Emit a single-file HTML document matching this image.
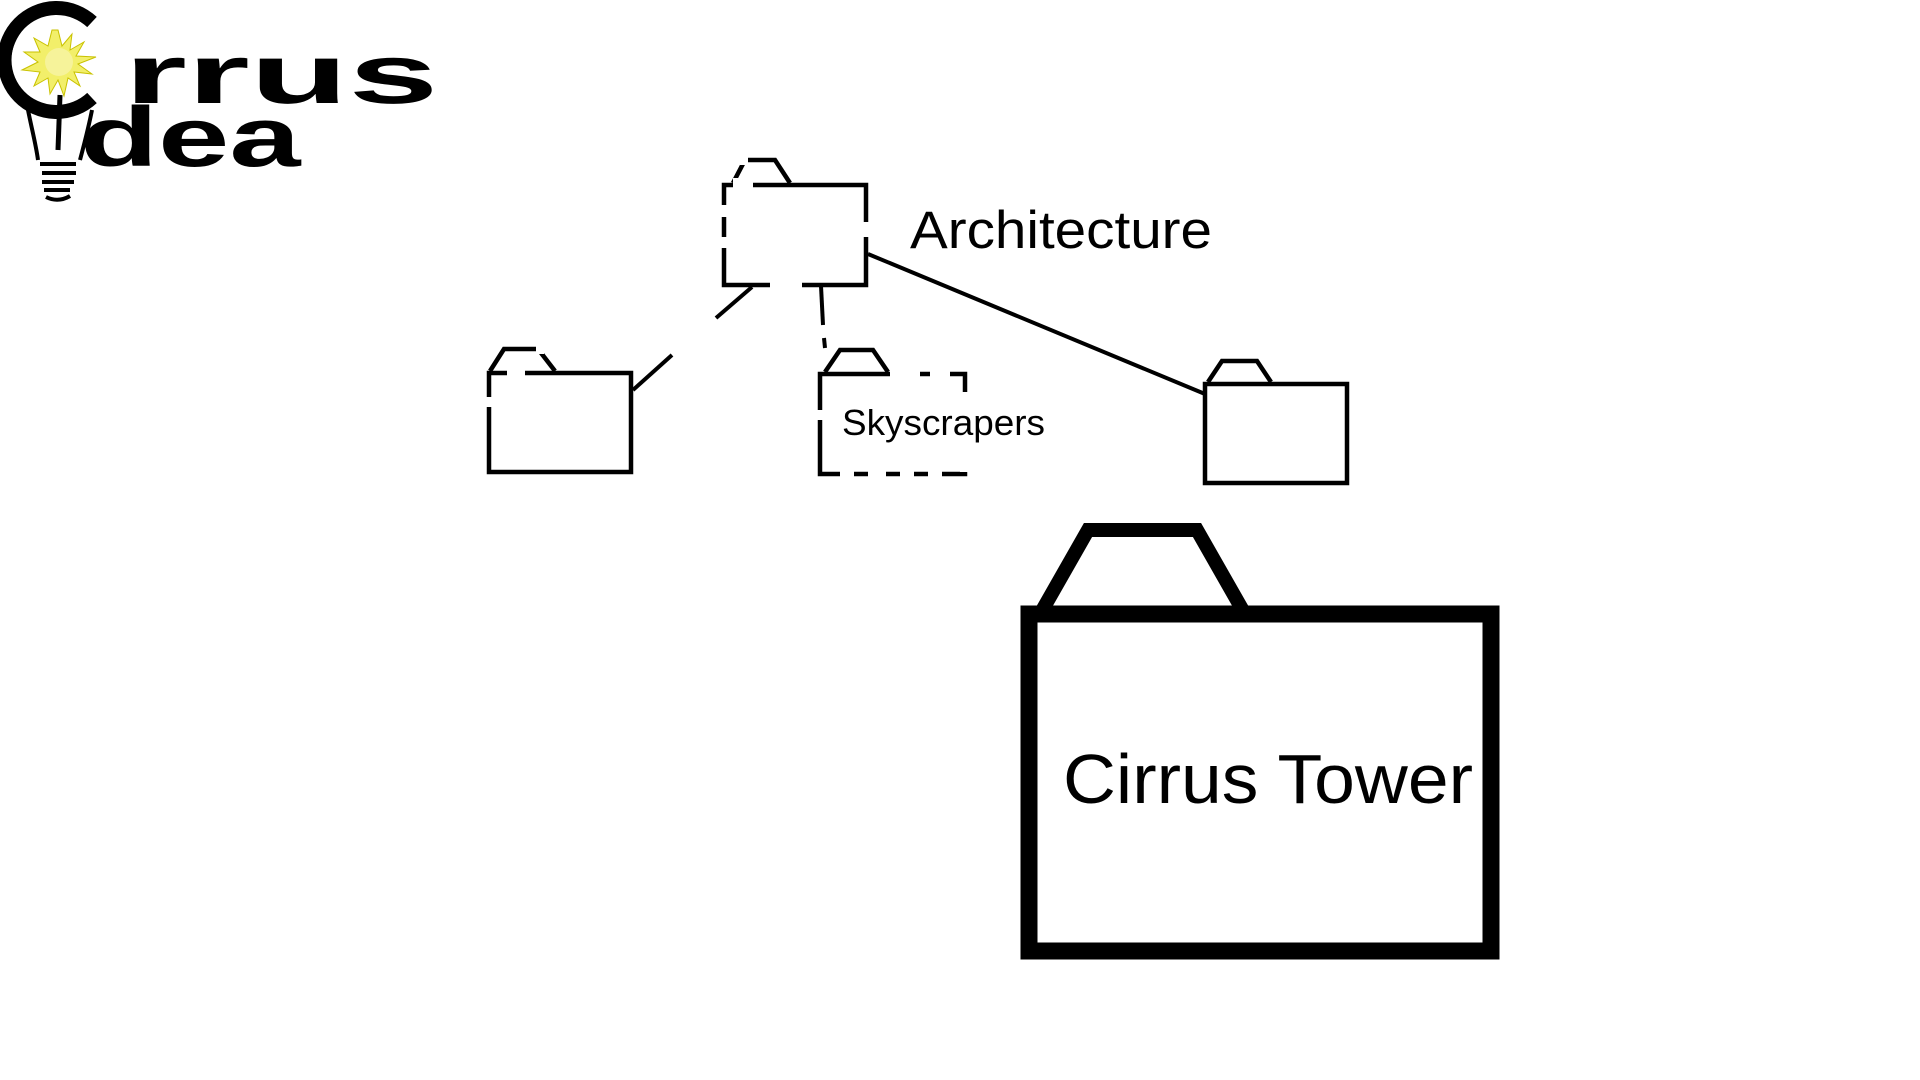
<!DOCTYPE html>
<html><head><meta charset="utf-8"><style>
html,body{margin:0;padding:0;background:#fff;width:1920px;height:1080px;overflow:hidden}
svg{display:block}
</style></head><body>
<svg width="1920" height="1080" viewBox="0 0 1920 1080" xmlns="http://www.w3.org/2000/svg">
<rect width="1920" height="1080" fill="#fff"/>
<!-- Logo -->
<g>
  <path d="M92,22 A52,52 0 1 0 92,98" fill="none" stroke="#000" stroke-width="14"/>
  <path d="M60,8 C30,10 8,35 8,62 C8,85 20,100 30,110" fill="none" stroke="#000" stroke-width="6"/>
  <polygon fill="#f2ef6a" stroke="#c9c200" stroke-width="1" points="58,30 62,46 72,34 70,50 84,42 76,56 96,57 78,64 92,74 74,72 80,86 68,78 64,96 58,80 50,94 48,78 34,86 40,72 22,70 38,62 24,52 40,52 34,38 48,46 52,30"/>
  <circle cx="59" cy="62" r="14" fill="#f6f39a"/>
  <path d="M60,95 L58,150" stroke="#000" stroke-width="5"/>
  <path d="M28,110 C32,130 36,145 38,160 M92,110 C88,130 84,145 80,160" fill="none" stroke="#000" stroke-width="4"/>
  <path d="M40,164 H76 M42,173 H76 M42,182 H74 M44,190 H70" stroke="#000" stroke-width="4"/>
  <path d="M46,197 Q58,203 70,196" fill="none" stroke="#000" stroke-width="4"/>
  <text x="0" y="0" transform="translate(124,103) scale(2.02,1.05)" font-family="Liberation Sans, sans-serif" font-weight="bold" font-size="80" fill="#000">rrus</text>
  <text x="0" y="0" transform="translate(80,166) scale(1.6,1.05)" font-family="Liberation Sans, sans-serif" font-weight="bold" font-size="80" fill="#000">dea</text>
</g>

<!-- connectors -->
<line x1="868" y1="254" x2="1205" y2="394" stroke="#000" stroke-width="4"/>
<line x1="752" y1="287" x2="716" y2="318" stroke="#000" stroke-width="4"/>
<line x1="672" y1="355" x2="633" y2="390" stroke="#000" stroke-width="4"/>
<line x1="821" y1="286" x2="823" y2="325" stroke="#000" stroke-width="4"/>
<line x1="824" y1="338" x2="825" y2="348" stroke="#000" stroke-width="4"/>

<g fill="#fff" stroke="#000" stroke-width="4.5" stroke-linejoin="miter">
  <!-- Architecture folder -->
  <polyline points="733,183 745,160 775,160 790,183" fill="none"/>
  <rect x="724" y="185" width="142" height="100"/>
  <!-- left folder -->
  <polyline points="490,371 504,349 538,349 555,371" fill="none"/>
  <rect x="489" y="373" width="142" height="99"/>
  <!-- skyscrapers folder -->
  <polyline points="825,372 840,350 873,350 888,372" fill="none"/>
  <rect x="820" y="374" width="145" height="100"/>
  <!-- right folder -->
  <polyline points="1208,382 1222,361 1257,361 1271,382" fill="none"/>
  <rect x="1205" y="384" width="142" height="99"/>
</g>
<!-- dashed gaps -->
<g fill="#fff">
  <rect x="718" y="205" width="10" height="12"/>
  <rect x="718" y="237" width="10" height="11"/>
  <rect x="733" y="178" width="20" height="10"/>
  <rect x="740" y="155" width="8" height="10"/>
  <rect x="862" y="222" width="10" height="15"/>
  <rect x="770" y="281" width="32" height="10"/>
  <rect x="483" y="397" width="10" height="10"/>
  <rect x="507" y="366" width="18" height="10"/>
  <rect x="536" y="344" width="8" height="10"/>
  <rect x="814" y="410" width="10" height="10"/>
  <rect x="890" y="368" width="30" height="10"/>
  <rect x="930" y="368" width="20" height="10"/>
  <rect x="960" y="392" width="10" height="80"/>
  <rect x="840" y="470" width="14" height="10"/>
  <rect x="868" y="470" width="18" height="10"/>
  <rect x="900" y="470" width="14" height="10"/>
  <rect x="928" y="470" width="14" height="10"/>
</g>
<text x="842" y="435" font-family="Liberation Sans, sans-serif" font-size="36" textLength="203" lengthAdjust="spacingAndGlyphs" fill="#000">Skyscrapers</text>
<text x="910" y="248" font-family="Liberation Sans, sans-serif" font-size="53" textLength="302" lengthAdjust="spacingAndGlyphs" fill="#000">Architecture</text>

<!-- Cirrus Tower big folder -->
<polyline points="1043,609 1088,530 1197,530 1242,609" fill="none" stroke="#000" stroke-width="14" stroke-linejoin="miter"/>
<rect x="1029" y="614" width="462" height="337" fill="#fff" stroke="#000" stroke-width="17"/>
<text x="1063" y="803" font-family="Liberation Sans, sans-serif" font-size="70" textLength="410" lengthAdjust="spacingAndGlyphs" fill="#000">Cirrus Tower</text>
</svg>
</body></html>
